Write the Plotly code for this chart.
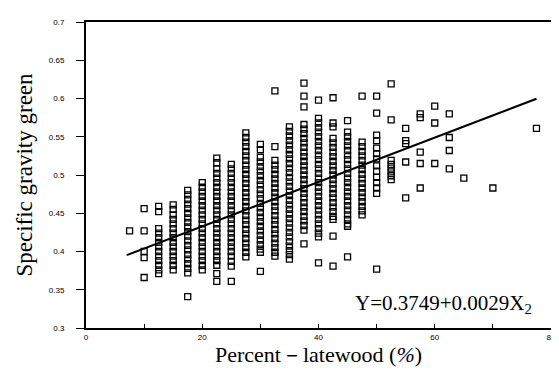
import plotly.graph_objects as go

# Percent latewood classes (x) and specific gravity green values (y) per class
latewood_cols = [7.5, 10, 12.5, 15, 17.5, 20, 22.5, 25, 27.5, 30, 32.5, 35, 37.5, 40,
                 42.5, 45, 47.5, 50, 52.5, 55, 57.5, 60, 62.5, 65, 70, 77.5]
sg_by_col = [
    [0.427],
    [0.456, 0.427, 0.400, 0.392, 0.366],
    [0.459, 0.452, 0.430, 0.424, 0.418, 0.412, 0.406, 0.400, 0.394, 0.388, 0.382, 0.376, 0.371],
    [0.461, 0.455, 0.448, 0.442, 0.436, 0.430, 0.424, 0.418, 0.412, 0.406, 0.400, 0.394, 0.388, 0.382, 0.376],
    [0.480, 0.474, 0.468, 0.462, 0.456, 0.450, 0.444, 0.438, 0.432, 0.426, 0.420, 0.414, 0.408, 0.402, 0.396, 0.390, 0.384, 0.378, 0.372, 0.341],
    [0.490, 0.484, 0.478, 0.472, 0.466, 0.460, 0.454, 0.448, 0.442, 0.436, 0.430, 0.424, 0.418, 0.412, 0.406, 0.400, 0.394, 0.388, 0.382, 0.376],
    [0.522, 0.516, 0.508, 0.502, 0.496, 0.490, 0.484, 0.478, 0.472, 0.466, 0.460, 0.454, 0.448, 0.442, 0.436, 0.430, 0.424, 0.418, 0.412, 0.406, 0.400, 0.394, 0.388, 0.382, 0.371, 0.361],
    [0.514, 0.508, 0.502, 0.496, 0.490, 0.484, 0.478, 0.472, 0.466, 0.460, 0.454, 0.448, 0.442, 0.436, 0.430, 0.424, 0.418, 0.412, 0.406, 0.400, 0.394, 0.387, 0.381, 0.361],
    [0.555, 0.549, 0.543, 0.537, 0.531, 0.525, 0.519, 0.513, 0.507, 0.501, 0.495, 0.489, 0.483, 0.477, 0.471, 0.465, 0.459, 0.453, 0.447, 0.441, 0.435, 0.429, 0.423, 0.417, 0.411, 0.405, 0.399, 0.393],
    [0.540, 0.533, 0.523, 0.517, 0.511, 0.505, 0.499, 0.493, 0.487, 0.481, 0.475, 0.469, 0.463, 0.457, 0.451, 0.445, 0.439, 0.433, 0.427, 0.421, 0.415, 0.409, 0.403, 0.399, 0.374],
    [0.610, 0.537, 0.519, 0.513, 0.507, 0.501, 0.495, 0.489, 0.483, 0.477, 0.471, 0.465, 0.459, 0.453, 0.447, 0.441, 0.435, 0.429, 0.423, 0.417, 0.411, 0.405, 0.399, 0.394],
    [0.563, 0.557, 0.551, 0.545, 0.539, 0.533, 0.527, 0.521, 0.515, 0.509, 0.503, 0.497, 0.491, 0.485, 0.479, 0.473, 0.467, 0.461, 0.455, 0.449, 0.443, 0.437, 0.431, 0.425, 0.419, 0.413, 0.407, 0.401, 0.396, 0.390],
    [0.620, 0.603, 0.589, 0.566, 0.560, 0.554, 0.548, 0.542, 0.536, 0.530, 0.524, 0.518, 0.512, 0.506, 0.500, 0.494, 0.488, 0.482, 0.476, 0.470, 0.464, 0.458, 0.452, 0.446, 0.440, 0.434, 0.428, 0.410],
    [0.598, 0.574, 0.568, 0.562, 0.556, 0.550, 0.544, 0.538, 0.532, 0.526, 0.520, 0.514, 0.508, 0.502, 0.496, 0.490, 0.484, 0.478, 0.472, 0.466, 0.460, 0.454, 0.448, 0.442, 0.436, 0.430, 0.424, 0.419, 0.385],
    [0.601, 0.568, 0.563, 0.548, 0.542, 0.536, 0.530, 0.524, 0.518, 0.512, 0.506, 0.500, 0.494, 0.488, 0.482, 0.476, 0.470, 0.464, 0.458, 0.452, 0.446, 0.442, 0.420, 0.381],
    [0.571, 0.556, 0.550, 0.544, 0.538, 0.532, 0.526, 0.520, 0.514, 0.508, 0.502, 0.496, 0.490, 0.484, 0.478, 0.472, 0.466, 0.460, 0.454, 0.448, 0.442, 0.436, 0.433, 0.393],
    [0.603, 0.543, 0.537, 0.531, 0.525, 0.519, 0.513, 0.507, 0.501, 0.495, 0.489, 0.483, 0.477, 0.471, 0.465, 0.459, 0.453, 0.448],
    [0.603, 0.581, 0.552, 0.545, 0.535, 0.528, 0.521, 0.512, 0.505, 0.497, 0.490, 0.483, 0.476, 0.377],
    [0.619, 0.572, 0.519, 0.514, 0.509, 0.504, 0.499, 0.494],
    [0.561, 0.545, 0.541, 0.517, 0.470],
    [0.580, 0.575, 0.530, 0.515, 0.483],
    [0.590, 0.568, 0.515],
    [0.580, 0.549, 0.532, 0.508],
    [0.496],
    [0.483],
    [0.561],
]

# Regression: Y = 0.3749 + 0.0029 X2
intercept = 0.3749
slope = 0.0029
line_x = [7, 77.5]

x_tick_vals = [0, 10, 20, 30, 40, 50, 60, 70, 80]
x_tick_text = ["0", "", "20", "", "40", "", "60", "", "80"]
y_tick_vals = [0.3, 0.35, 0.4, 0.45, 0.5, 0.55, 0.6, 0.65, 0.7]
y_tick_text = ["0.3", "0.35", "0.4", "0.45", "0.5", "0.55", "0.6", "0.65", "0.7"]

xs, ys = [], []
for xv, col in zip(latewood_cols, sg_by_col):
    for yv in col:
        xs.append(xv)
        ys.append(yv)

fig = go.Figure()
fig.add_trace(go.Scatter(
    x=xs, y=ys, mode="markers",
    marker=dict(symbol="square-open", size=6, color="black", line=dict(width=1.3, color="black")),
    showlegend=False, cliponaxis=False,
))
fig.add_trace(go.Scatter(
    x=line_x, y=[intercept + slope * v for v in line_x], mode="lines",
    line=dict(color="black", width=2), showlegend=False,
))

fig.update_layout(
    width=559, height=376,
    margin=dict(l=78, r=16, t=10, b=56),
    plot_bgcolor="white", paper_bgcolor="white",
    font=dict(family="Liberation Sans, Arial, sans-serif", color="black"),
    xaxis=dict(
        range=[0, 80], tickvals=x_tick_vals, ticktext=x_tick_text,
        ticks="inside", ticklen=4, tickwidth=1, tickcolor="black",
        showline=True, linecolor="black", linewidth=2, mirror=True,
        showgrid=False, zeroline=False,
        tickfont=dict(size=8, family="Liberation Sans, Arial, sans-serif"),
        title=dict(text="Percent－latewood (<i>%</i>)",
                   font=dict(size=22, family="Liberation Serif, Times New Roman, serif"),
                   standoff=6),
    ),
    yaxis=dict(
        range=[0.3, 0.7], tickvals=y_tick_vals, ticktext=y_tick_text,
        ticks="outside", ticklen=8, tickwidth=1, tickcolor="black",
        ticklabelstandoff=10,
        showline=True, linecolor="black", linewidth=2, mirror=True,
        showgrid=False, zeroline=False,
        tickfont=dict(size=8, family="Liberation Sans, Arial, sans-serif"),
        title=dict(text="Specific gravity green",
                   font=dict(size=23, family="Liberation Serif, Times New Roman, serif"),
                   standoff=10),
    ),
    annotations=[dict(
        x=1, y=0, xref="paper", yref="paper", xanchor="right", yanchor="bottom",
        xshift=-17, yshift=9, showarrow=False,
        text="Y=0.3749+0.0029X<sub>2</sub>",
        font=dict(size=21, family="Liberation Serif, Times New Roman, serif", color="black"),
    )],
)

fig.write_html("out.html")
